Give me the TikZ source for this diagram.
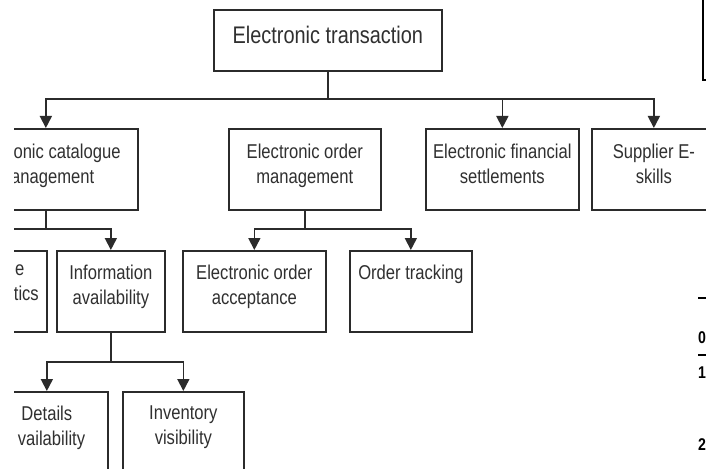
\documentclass[tikz,border=0pt]{standalone}
\usepackage{fontspec}
\setmainfont[FakeStretch=0.83]{Liberation Sans}
\usetikzlibrary{arrows.meta}
\definecolor{ink}{HTML}{2B2B2B}
\definecolor{txt}{HTML}{303030}
\begin{document}
\begin{tikzpicture}[x=1pt,y=-1pt,
  box/.style={draw=ink, line width=1.7pt, inner sep=0pt, anchor=north west},
  lbl/.style={text=txt, inner sep=0pt, anchor=north, align=center, font=\fontsize{20}{25}\selectfont},
  wire/.style={draw=ink, line width=1.7pt},
  arr/.style={wire, -{Triangle[width=12pt,length=12pt]}},
  frag/.style={text=black, inner sep=0pt, anchor=west, font=\bfseries\fontsize{17}{20}\selectfont},
]
\useasboundingbox (0,0) rectangle (706,468);
\fill[white] (0,0) rectangle (706,468);
\clip (14,0) rectangle (706,468);

% boxes
\node[box, minimum width=228pt, minimum height=61pt] (top) at (213,9) {};
\node[box, minimum width=184pt, minimum height=81pt] (A) at (-47,128) {};
\node[box, minimum width=152pt, minimum height=81pt] (B) at (228,128) {};
\node[box, minimum width=153pt, minimum height=81pt] (C) at (425,128) {};
\node[box, minimum width=124pt, minimum height=81pt] (D) at (591,128) {};
\node[box, minimum width=126pt, minimum height=81pt] (L) at (-80,250) {};
\node[box, minimum width=108pt, minimum height=81pt] (I) at (56,250) {};
\node[box, minimum width=143pt, minimum height=81pt] (E) at (182,250) {};
\node[box, minimum width=122pt, minimum height=81pt] (O) at (349,250) {};
\node[box, minimum width=122pt, minimum height=100pt] (Dt) at (-15,391) {};
\node[box, minimum width=121pt, minimum height=100pt] (Iv) at (122,391) {};

% texts
\node[lbl, font=\fontsize{24}{28}\selectfont] (ttop) at ([yshift=-17pt]top.north) {Electronic transaction};
\node[lbl] (tA) at ([yshift=-16pt]A.north) {\phantom{Electr}onic catalogue\\\phantom{m}anagement};
\node[lbl] (tB) at ([yshift=-16pt]B.north) {Electronic order\\management};
\node[lbl] (tC) at ([yshift=-16pt]C.north) {Electronic financial\\settlements};
\node[lbl] (tD) at ([yshift=-16pt]D.north) {Supplier E-\\skills};
\node[lbl] (tL) at ([yshift=-15pt]L.north) {\hspace{72pt}e\\\hspace{85pt}tics};
\node[lbl] (tI) at ([yshift=-15pt]I.north) {Information\\availability};
\node[lbl] (tE) at ([yshift=-15pt]E.north) {Electronic order\\acceptance};
\node[lbl] (tO) at ([yshift=-15pt]O.north) {Order tracking\\\mbox{}};
\node[lbl] (tDt) at ([yshift=-15pt]Dt.north) {Details\\\phantom{a}vailability};
\node[lbl] (tIv) at ([yshift=-15pt]Iv.north) {Inventory\\visibility};

% connectors
\coordinate (bus0) at (0,99);
\coordinate (bus1) at (0,229);
\coordinate (bus2) at (0,362);
\draw[wire] (top.south) -- (top.south |- bus0);
\draw[arr] (top.south |- bus0) -| (A.north);
\draw[arr] (top.south |- bus0) -| (C.north);
\draw[arr] (top.south |- bus0) -| (D.north);

\draw[wire] (A.south) -- (A.south |- bus1);
\draw[arr] (A.south |- bus1) -| (L.north);
\draw[arr] (A.south |- bus1) -| (I.north);

\draw[wire] (B.south) -- (B.south |- bus1);
\draw[arr] (B.south |- bus1) -| (E.north);
\draw[arr] (B.south |- bus1) -| (O.north);

\draw[wire] (I.south) -- (I.south |- bus2);
\draw[arr] (I.south |- bus2) -| (Dt.north);
\draw[arr] (I.south |- bus2) -| (Iv.north);

% fragments at the right edge
\node[draw=black, line width=2pt, inner sep=0pt, anchor=north west, minimum width=100pt, minimum height=100pt] (tr) at (702,-21) {};
\draw[black, line width=2pt] (698,298) -- (712,298);
\node[frag] (d0) at (698,338) {0};
\draw[black, line width=2pt] (698,355) -- (712,355);
\node[frag] (d1) at (698,373) {1};
\node[frag] (d2) at (698,445) {2};
\end{tikzpicture}
\end{document}
